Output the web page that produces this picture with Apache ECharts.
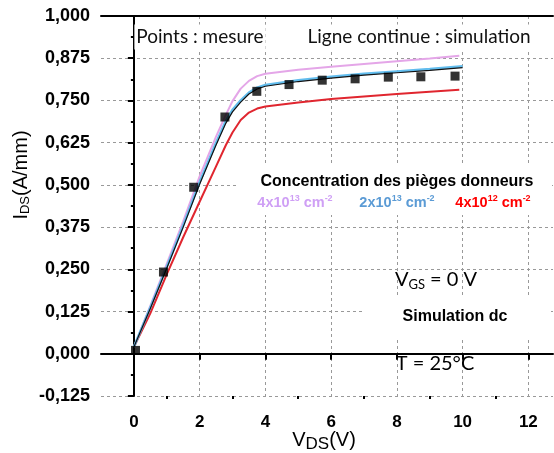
<!DOCTYPE html>
<html>
<head>
<meta charset="utf-8">
<script src="https://cdn.jsdelivr.net/npm/echarts@6/dist/echarts.min.js"></script>
<style>
html, body { margin: 0; background: #fff; }
#chart { width: 554px; height: 453px; }
</style>
</head>
<body>
<div id="chart"></div>
<script>
// simulated curves (VDS in V, IDS in A/mm)
var vdsSim = [0, 0.5, 1, 1.5, 2, 2.5, 2.8, 3, 3.25, 3.5, 3.75, 4, 5, 6, 7, 8, 9, 9.9];
var ids4e13 = [0.02, 0.142, 0.266, 0.392, 0.525, 0.643, 0.708, 0.748, 0.785, 0.808, 0.822, 0.829, 0.841, 0.85, 0.858, 0.866, 0.874, 0.882];
var ids4e12 = [0.02, 0.12, 0.235, 0.345, 0.45, 0.555, 0.618, 0.655, 0.692, 0.714, 0.726, 0.732, 0.744, 0.754, 0.762, 0.769, 0.776, 0.782];
var vdsBlue = [0, 0.5, 1, 1.5, 2, 2.5, 2.8, 3, 3.25, 3.5, 3.75, 4, 5, 6, 7, 8, 9, 10];
var ids2e13 = [0.02, 0.137, 0.257, 0.38, 0.508, 0.625, 0.69, 0.722, 0.75, 0.773, 0.788, 0.796, 0.81, 0.82, 0.829, 0.836, 0.843, 0.851];
var idsFit = [0.02, 0.134, 0.253, 0.375, 0.502, 0.618, 0.683, 0.716, 0.745, 0.769, 0.784, 0.792, 0.806, 0.816, 0.825, 0.832, 0.839, 0.847];

// measured points
var vdsMes = [0.05, 0.9, 1.82, 2.77, 3.74, 4.72, 5.73, 6.73, 7.74, 8.73, 9.77];
var idsMes = [0.01, 0.242, 0.493, 0.701, 0.777, 0.797, 0.81, 0.814, 0.819, 0.82, 0.822];

var xMajor = [0, 2, 4, 6, 8, 10, 12];
var xMinor = [1, 3, 5, 7, 9, 11];

function pairs(xs, ys) {
  return xs.map(function (x, i) { return [x, ys[i]]; });
}

var myChart = echarts.init(document.getElementById('chart'));

var labelFont = 'Liberation Sans, Arial, sans-serif';
var calibri = 'Lato, sans-serif';

var option = {
  backgroundColor: '#fff',
  animation: false,
  grid: { left: 101, top: 16, right: 1, bottom: 57 },
  xAxis: [
    {
      type: 'value', min: -1, max: 12.75, interval: 1,
      axisLine: { show: true, lineStyle: { color: '#000', width: 2 } },
      axisTick: { show: true, customValues: xMajor, length: 6, lineStyle: { color: '#000', width: 2 } },
      axisLabel: { customValues: xMajor, margin: 18, color: '#000', fontSize: 17, fontWeight: 'bold', fontFamily: labelFont },
      splitLine: { show: true, lineStyle: { color: '#999', type: [3, 3], width: 1 } }
    },
    {
      type: 'value', min: -1, max: 12.75, interval: 1, position: 'bottom',
      axisLine: { show: false },
      axisTick: { show: true, customValues: xMinor, length: 3, lineStyle: { color: '#000', width: 2 } },
      axisLabel: { show: false },
      splitLine: { show: false }
    },
    {
      type: 'value', min: -1, max: 12.75, position: 'top',
      axisLine: { show: true, lineStyle: { color: '#000', width: 2 } },
      axisTick: { show: false }, axisLabel: { show: false }, splitLine: { show: false }
    }
  ],
  yAxis: {
    type: 'value', min: -0.125, max: 1, interval: 0.125,
    axisLine: { show: true, lineStyle: { color: '#000', width: 2 } },
    axisTick: { show: true, length: 6, lineStyle: { color: '#000', width: 2 } },
    minorTick: { show: true, splitNumber: 2, length: 3, lineStyle: { color: '#000', width: 2 } },
    axisLabel: {
      margin: 11, color: '#000', fontSize: 18, fontWeight: 'bold', fontFamily: labelFont,
      formatter: function (v) { return v.toFixed(3).replace('.', ','); }
    },
    splitLine: { show: true, lineStyle: { color: '#999', type: [3, 3], width: 1 } }
  },
  series: [
    {
      name: '4x10^13', type: 'line', data: pairs(vdsSim, ids4e13), showSymbol: false,
      lineStyle: { color: '#e4a6e8', width: 2 }, z: 3
    },
    {
      name: '4x10^12', type: 'line', data: pairs(vdsSim, ids4e12), showSymbol: false,
      lineStyle: { color: '#e0262f', width: 2 }, z: 3
    },
    {
      name: '2x10^13', type: 'line', data: pairs(vdsBlue, ids2e13), showSymbol: false,
      lineStyle: { color: '#62bdee', width: 2.5 }, z: 4
    },
    {
      name: 'fit', type: 'line', data: pairs(vdsBlue, idsFit), showSymbol: false,
      lineStyle: { color: '#111', width: 1.2 }, z: 5
    },
    {
      name: 'mesure', type: 'scatter', data: pairs(vdsMes, idsMes),
      symbol: 'rect', symbolSize: 9, itemStyle: { color: '#000' }, z: 6
    }
  ],
  graphic: [
    {
      type: 'text', x: 21, y: 175, rotation: Math.PI / 2, z: 100,
      style: {
        text: '{a|I}{b|DS}{a|(A/mm)}', align: 'center', verticalAlign: 'middle',
        rich: {
          a: { fontSize: 20, fontFamily: labelFont, fill: '#000' },
          b: { fontSize: 13, fontFamily: labelFont, fill: '#000', padding: [8, 0, 0, 0] }
        }
      }
    },
    {
      type: 'text', x: 324, y: 440, z: 100,
      style: {
        text: '{a|V}{b|DS}{a|(V)}', align: 'center', verticalAlign: 'middle',
        rich: {
          a: { fontSize: 20, fontFamily: labelFont, fill: '#000' },
          b: { fontSize: 17, fontFamily: labelFont, fill: '#000', padding: [8, 0, 0, 0] }
        }
      }
    },
    {
      type: 'text', x: 200, y: 37, z: 100,
      style: {
        text: 'Points : mesure', align: 'center', verticalAlign: 'middle',
        fontSize: 19, fontFamily: calibri, fill: '#111', backgroundColor: '#fff', padding: [3, 2]
      }
    },
    {
      type: 'text', x: 419, y: 37, z: 100,
      style: {
        text: 'Ligne continue : simulation', align: 'center', verticalAlign: 'middle',
        fontSize: 19, fontFamily: calibri, fill: '#111', backgroundColor: '#fff', padding: [3, 2]
      }
    },
    {
      type: 'rect', z: 99, shape: { x: 236, y: 163, width: 316, height: 52 },
      style: { fill: '#fff' }
    },
    {
      type: 'text', x: 397, y: 182, z: 100,
      style: {
        text: 'Concentration des pièges donneurs', align: 'center', verticalAlign: 'middle',
        fontSize: 16, fontWeight: 'bold', fontFamily: labelFont, fill: '#000'
      }
    },
    {
      type: 'text', x: 295, y: 203, z: 100,
      style: {
        text: '{a|4x10}{s|13}{a| cm}{s|-2}', align: 'center', verticalAlign: 'middle',
        rich: {
          a: { fontSize: 14.5, fontWeight: 'bold', fontFamily: labelFont, fill: '#cf9ff5' },
          s: { fontSize: 9, fontWeight: 'bold', fontFamily: labelFont, fill: '#cf9ff5', padding: [0, 0, 9, 0] }
        }
      }
    },
    {
      type: 'text', x: 397, y: 203, z: 100,
      style: {
        text: '{a|2x10}{s|13}{a| cm}{s|-2}', align: 'center', verticalAlign: 'middle',
        rich: {
          a: { fontSize: 14.5, fontWeight: 'bold', fontFamily: labelFont, fill: '#5b9bd5' },
          s: { fontSize: 9, fontWeight: 'bold', fontFamily: labelFont, fill: '#5b9bd5', padding: [0, 0, 9, 0] }
        }
      }
    },
    {
      type: 'text', x: 493, y: 203, z: 100,
      style: {
        text: '{a|4x10}{s|12}{a| cm}{s|-2}', align: 'center', verticalAlign: 'middle',
        rich: {
          a: { fontSize: 14.5, fontWeight: 'bold', fontFamily: labelFont, fill: '#ff0000' },
          s: { fontSize: 9, fontWeight: 'bold', fontFamily: labelFont, fill: '#ff0000', padding: [0, 0, 9, 0] }
        }
      }
    },
    {
      type: 'text', x: 436, y: 280, z: 100,
      style: {
        text: '{a|V}{b|GS}{a| = 0 V}', align: 'center', verticalAlign: 'middle',
        rich: {
          a: { fontSize: 20, fontFamily: calibri, fill: '#000' },
          b: { fontSize: 13, fontFamily: calibri, fill: '#000', padding: [9, 0, 0, 0] }
        }
      }
    },
    {
      type: 'rect', z: 99, shape: { x: 362, y: 295, width: 189, height: 43 },
      style: { fill: '#fff' }
    },
    {
      type: 'text', x: 455, y: 317, z: 100,
      style: {
        text: 'Simulation dc', align: 'center', verticalAlign: 'middle',
        fontSize: 16, fontWeight: 'bold', fontFamily: labelFont, fill: '#000'
      }
    },
    {
      type: 'text', x: 435, y: 364, z: 100,
      style: {
        text: 'T = 25°C', align: 'center', verticalAlign: 'middle',
        fontSize: 20, fontFamily: calibri, fill: '#000'
      }
    }
  ]
};

myChart.setOption(option);
</script>
</body>
</html>
